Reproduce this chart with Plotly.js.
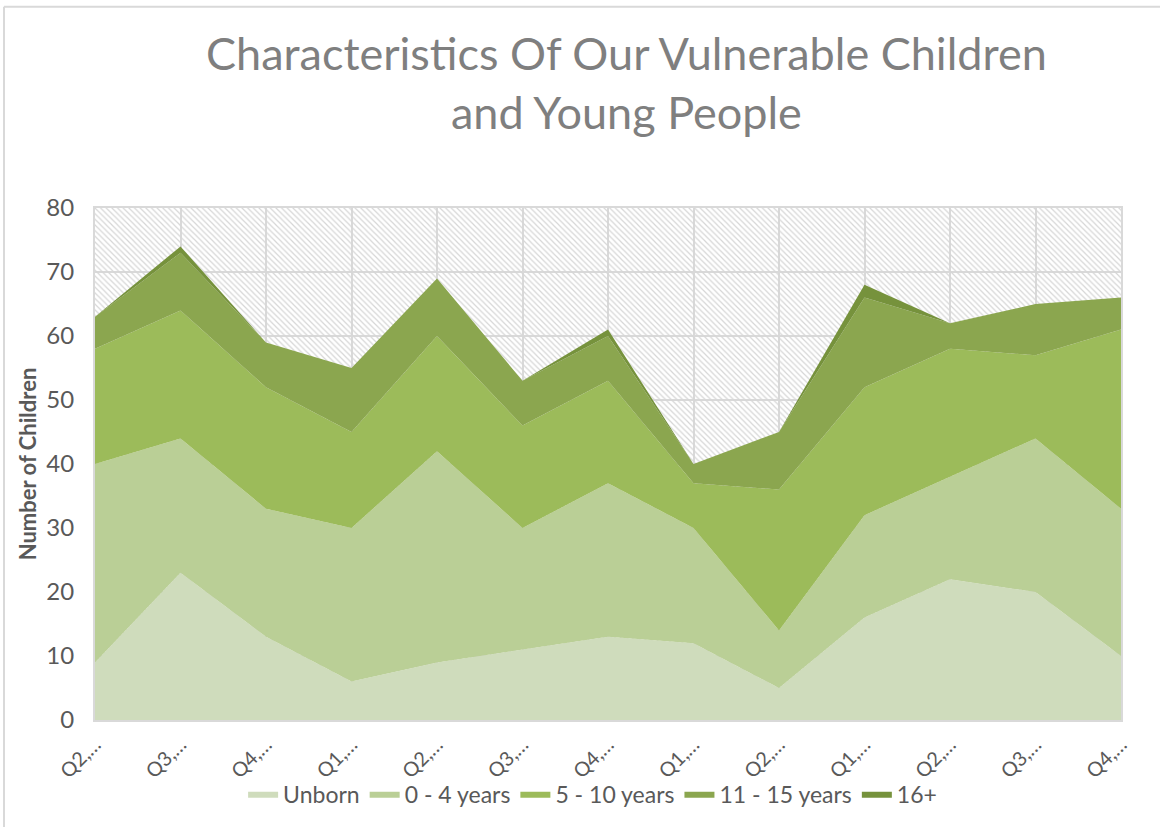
<!DOCTYPE html>
<html>
<head>
<meta charset="utf-8">
<script src="https://cdn.plot.ly/plotly-3.0.1.min.js"></script>
<style>html,body{margin:0;padding:0;background:#fff;}#chart{width:1160px;height:827px;}</style>
</head>
<body>
<div id="chart"></div>
<script>
// Category tick labels (truncated in the original)
const tickLabels = ["Q2,…","Q3,…","Q4,…","Q1,…","Q2,…","Q3,…","Q4,…","Q1,…","Q2,…","Q1,…","Q2,…","Q3,…","Q4,…"];
const seriesNames = ["Unborn","0 - 4 years","5 - 10 years","11 - 15 years","16+"];
const unborn   = [9,23,13,6,9,11,13,12,5,16,22,20,10];
const age0to4  = [31,21,20,24,33,19,24,18,9,16,16,24,23];
const age5to10 = [18,20,19,15,18,16,16,7,22,20,20,13,28];
const age11to15= [5,9,7,10,9,7,7,3,9,14,4,8,5];
const age16plus= [0,1,0,0,0,0,1,0,0,2,0,0,0];
const colors = ["#cfdcbc","#bacf96","#9cbb5a","#8ba64f","#76923c"];
const yMax = 80;

const xIdx = tickLabels.map((_, i) => i);
const seriesData = [unborn, age0to4, age5to10, age11to15, age16plus];

// hatched background of the plot area
const bg = {
  x: [0, xIdx.length - 1, xIdx.length - 1, 0, 0],
  y: [0, 0, yMax, yMax, 0],
  type: "scatter", mode: "lines", fill: "toself",
  line: {width: 0},
  fillcolor: "rgba(0,0,0,0)",
  fillpattern: {shape: "\\", fgcolor: "#d6d6d6", bgcolor: "rgba(255,255,255,0)", size: 4, solidity: 0.3},
  showlegend: false, hoverinfo: "skip"
};

const traces = [bg].concat(seriesData.map((vals, k) => ({
  x: xIdx, y: vals, name: seriesNames[k],
  type: "scatter", mode: "lines", stackgroup: "one",
  line: {width: 0, color: colors[k]},
  fillcolor: colors[k]
})));

const font = "Lato, 'Open Sans', 'DejaVu Sans', sans-serif";
const layout = {
  width: 1160, height: 827,
  paper_bgcolor: "#ffffff", plot_bgcolor: "#ffffff",
  margin: {l: 95, r: 39, t: 208, b: 105},
  font: {family: font, color: "#595959"},
  title: {
    text: "Characteristics Of Our Vulnerable Children<br>and Young People",
    font: {family: font, size: 45, color: "#7f7f7f"},
    x: 0.54, xanchor: "center", y: 0.915, yanchor: "top",
    automargin: false
  },
  xaxis: {
    range: [0, xIdx.length - 1], automargin: false,
    tickmode: "array", tickvals: xIdx, ticktext: tickLabels,
    tickangle: -45, tickfont: {size: 20, color: "#595959"},
    showgrid: true, gridcolor: "#d9d9d9", gridwidth: 2,
    showline: true, linecolor: "#d9d9d9", linewidth: 2, mirror: true,
    zeroline: false, ticks: "outside", ticklen: 3, tickcolor: "rgba(0,0,0,0)"
  },
  yaxis: {
    range: [0, yMax], dtick: 10, automargin: false,
    tickfont: {size: 24, color: "#595959"},
    showgrid: true, gridcolor: "#d9d9d9", gridwidth: 2,
    showline: true, linecolor: "#d9d9d9", linewidth: 2, mirror: true,
    zeroline: false, ticks: "outside", ticklen: 14, tickcolor: "rgba(0,0,0,0)",
    title: {text: "<b>Number of Children</b>", font: {size: 22, color: "#595959"}, standoff: 4}
  },
  legend: {
    orientation: "h", x: 0.485, xanchor: "center", y: -0.102, yanchor: "top",
    traceorder: "normal", font: {size: 23, color: "#595959"},
    bgcolor: "rgba(0,0,0,0)",
    itemwidth: 30, tracegroupgap: 0
  },
  shapes: [
    {type: "line", xref: "paper", yref: "paper", x0: -0.0887, x1: -0.0887, y0: 1.393, y1: -0.3, line: {color: "#d9d9d9", width: 2}},
    {type: "line", xref: "paper", yref: "paper", x0: -0.0887, x1: 1.1, y0: 1.393, y1: 1.393, line: {color: "#d9d9d9", width: 2}}
  ],
  showlegend: true
};

Plotly.newPlot("chart", traces, layout, {displayModeBar: false, staticPlot: true});
</script>
</body>
</html>
